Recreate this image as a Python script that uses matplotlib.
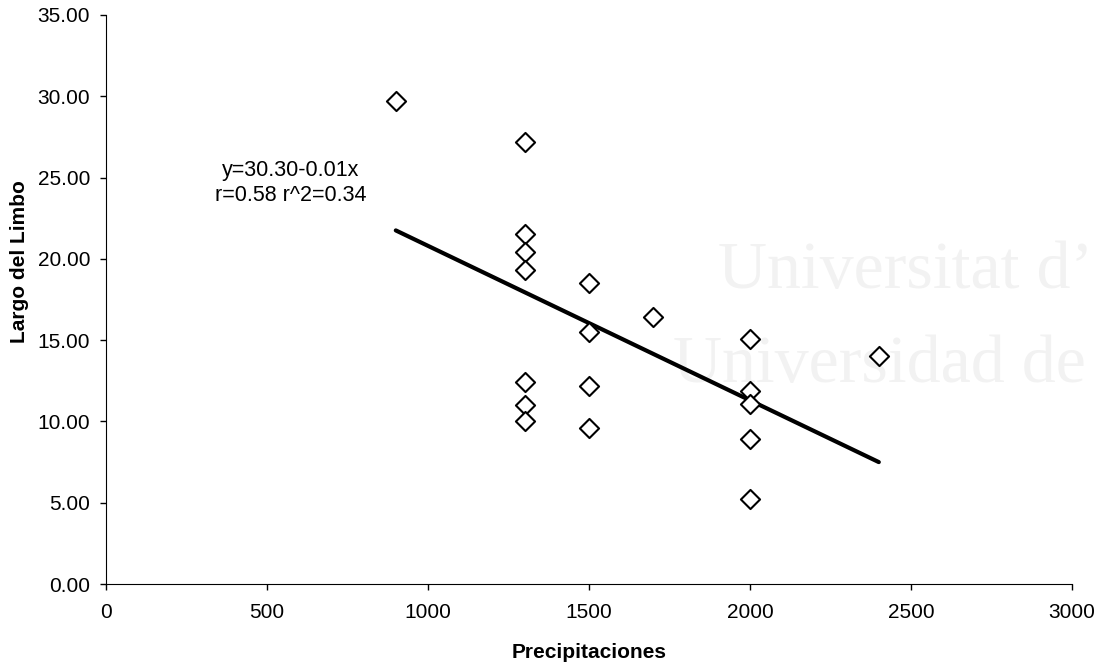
import matplotlib
matplotlib.use("Agg")
import matplotlib.pyplot as plt
from matplotlib.ticker import FormatStrFormatter
import numpy as np

# 데이터
precipitaciones = [900, 1300, 1300, 1300, 1300, 1300, 1300, 1300,
                   1500, 1500, 1500, 1500, 1700,
                   2000, 2000, 2000, 2000, 2000, 2400]
largo_limbo = [29.7, 27.2, 21.5, 20.4, 19.3, 12.4, 11.0, 10.0,
               18.5, 15.5, 12.2, 9.6, 16.4,
               15.1, 11.9, 11.1, 8.9, 5.2, 14.0]

# 회귀선 계수와 범위
fit_intercept = 30.30
fit_slope = -0.0095
fit_range = [900, 2400]
fit_label = "y=30.30-0.01x\nr=0.58 r^2=0.34"

x_ticks = [0, 500, 1000, 1500, 2000, 2500, 3000]
y_ticks = [0, 5, 10, 15, 20, 25, 30, 35]

plt.rcParams['font.family'] = ['Liberation Sans', 'DejaVu Sans']

fig = plt.figure(figsize=(11.03, 6.69), dpi=100)
ax = fig.add_axes([0.0961, 0.127, 0.8758, 0.8506])

# 배경 워터마크 (아주 옅은 회색)
wm = dict(family='Liberation Serif', color='#f2f2f2', zorder=0,
          transform=fig.transFigure, clip_on=False, va='baseline', fontsize=49)
ax.text(0.651, 0.5695, "Universitat d\u2019", **wm)
ax.text(0.610, 0.429, "Universidad de", **wm)

xf = np.array(fit_range)
ax.plot(xf, fit_intercept + fit_slope * xf, color='black', lw=3, zorder=2,
        solid_capstyle='round')
ax.scatter(precipitaciones, largo_limbo, marker='D', s=95, facecolor='white',
           edgecolor='black', linewidth=1.5, zorder=3)

ax.text(574, 24.66, fit_label, ha='center', va='center', fontsize=15.5,
        linespacing=1.25)

ax.set_xlim(0, 3000)
ax.set_ylim(0, 35)
ax.set_xticks(x_ticks)
ax.set_yticks(y_ticks)
ax.yaxis.set_major_formatter(FormatStrFormatter('%.2f'))
ax.tick_params(labelsize=15, length=4.5, width=1, direction='out')
ax.tick_params(axis='x', pad=9)
ax.tick_params(axis='y', pad=7)
ax.set_xlabel("Precipitaciones", fontsize=15, fontweight='bold')
ax.set_ylabel("Largo del Limbo", fontsize=15, fontweight='bold')
ax.xaxis.set_label_coords(0.5, -0.104)
ax.yaxis.set_label_coords(-0.08, 0.566)
for side in ['top', 'right']:
    ax.spines[side].set_visible(False)
ax.patch.set_alpha(0)

fig.savefig("out.png", dpi=100)
